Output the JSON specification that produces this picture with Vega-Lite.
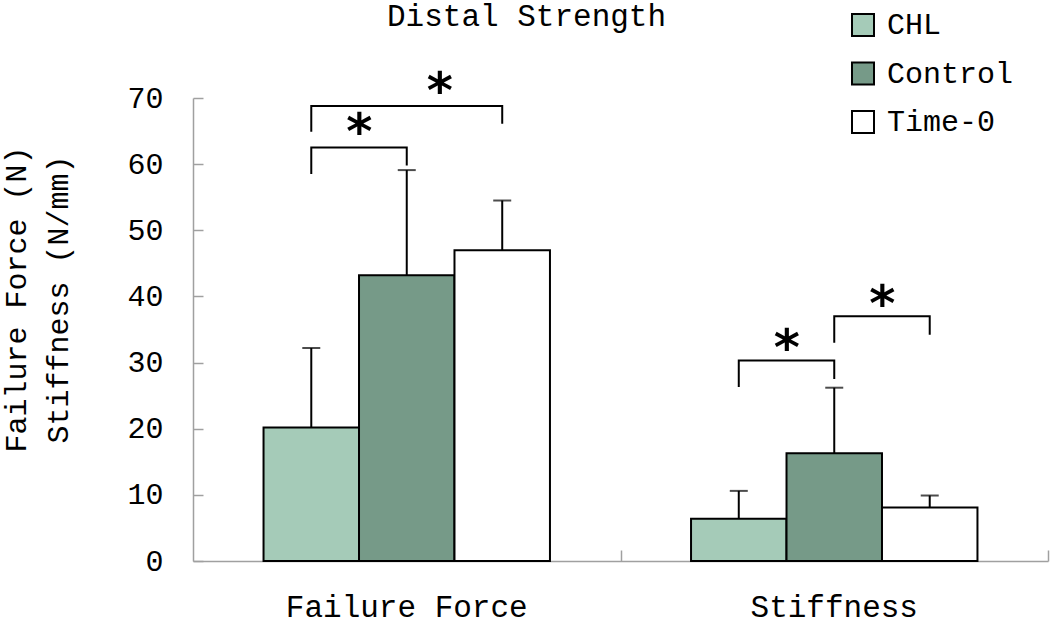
{
  "$schema": "https://vega.github.io/schema/vega-lite/v6.json",
  "width": 855,
  "height": 463,
  "autosize": {"type": "none"},
  "padding": {"left": 193, "top": 98, "right": 2, "bottom": 65},
  "background": "white",
  "config": {"view": {"stroke": null}, "font": "Liberation Mono"},
  "title": {"text": "Distal Strength", "anchor": "start", "frame": "group", "dx": 194, "offset": -47, "baseline": "alphabetic", "font": "Liberation Mono", "fontSize": 31, "fontWeight": "normal", "color": "black"},
  "resolve": {"axis": {"x": "independent", "y": "independent"}},
  "datasets": {
    "bars": [
      {"measure": "Failure Force", "group": "CHL", "mean": 20.2, "upper": 32.2},
      {"measure": "Failure Force", "group": "Control", "mean": 43.2, "upper": 59.1},
      {"measure": "Failure Force", "group": "Time-0", "mean": 47.0, "upper": 54.5},
      {"measure": "Stiffness", "group": "CHL", "mean": 6.4, "upper": 10.6},
      {"measure": "Stiffness", "group": "Control", "mean": 16.3, "upper": 26.2},
      {"measure": "Stiffness", "group": "Time-0", "mean": 8.1, "upper": 9.9}
    ],
    "brackets": [
      {"measure": "Failure Force", "bracket": "FF1", "pt": 1, "group": "CHL", "y": 58.5},
      {"measure": "Failure Force", "bracket": "FF1", "pt": 2, "group": "CHL", "y": 62.5},
      {"measure": "Failure Force", "bracket": "FF1", "pt": 3, "group": "Control", "y": 62.5},
      {"measure": "Failure Force", "bracket": "FF1", "pt": 4, "group": "Control", "y": 59.8},
      {"measure": "Failure Force", "bracket": "FF2", "pt": 1, "group": "CHL", "y": 64.9},
      {"measure": "Failure Force", "bracket": "FF2", "pt": 2, "group": "CHL", "y": 68.8},
      {"measure": "Failure Force", "bracket": "FF2", "pt": 3, "group": "Time-0", "y": 68.8},
      {"measure": "Failure Force", "bracket": "FF2", "pt": 4, "group": "Time-0", "y": 66.1},
      {"measure": "Stiffness", "bracket": "S1", "pt": 1, "group": "CHL", "y": 26.3},
      {"measure": "Stiffness", "bracket": "S1", "pt": 2, "group": "CHL", "y": 30.3},
      {"measure": "Stiffness", "bracket": "S1", "pt": 3, "group": "Control", "y": 30.3},
      {"measure": "Stiffness", "bracket": "S1", "pt": 4, "group": "Control", "y": 27.5},
      {"measure": "Stiffness", "bracket": "S2", "pt": 1, "group": "Control", "y": 33.0},
      {"measure": "Stiffness", "bracket": "S2", "pt": 2, "group": "Control", "y": 37.0},
      {"measure": "Stiffness", "bracket": "S2", "pt": 3, "group": "Time-0", "y": 37.0},
      {"measure": "Stiffness", "bracket": "S2", "pt": 4, "group": "Time-0", "y": 34.2}
    ],
    "stars": [
      {"measure": "Failure Force", "group": "CHL", "y": 66.0, "label": "*"},
      {"measure": "Stiffness", "group": "CHL", "y": 33.4, "label": "*"},
      {"measure": "Stiffness", "group": "Control", "y": 40.0, "label": "*"}
    ],
    "stars2": [
      {"measure": "Failure Force", "group": "Control", "y": 72.2, "label": "*"}
    ]
  },
  "encoding": {
    "x": {
      "field": "measure", "type": "nominal",
      "scale": {"domain": ["Failure Force", "Stiffness"], "paddingInner": 0.33, "paddingOuter": 0.165},
      "axis": null
    },
    "xOffset": {
      "field": "group", "type": "nominal",
      "scale": {"domain": ["CHL", "Control", "Time-0"], "paddingInner": 0, "paddingOuter": 0}
    }
  },
  "layer": [
    {
      "data": {"name": "bars"},
      "mark": {"type": "bar", "stroke": "black", "strokeWidth": 2},
      "encoding": {
        "x": {
          "field": "measure", "type": "nominal",
          "axis": {"title": null, "labelAngle": 0, "ticks": false, "domainColor": "#a0a0a0", "domainWidth": 1.5, "labelFontSize": 31, "labelFont": "Liberation Mono", "labelColor": "black", "labelPadding": 31, "labelLimit": 500}
        },
        "y": {
          "field": "mean", "type": "quantitative",
          "scale": {"domain": [0, 70], "nice": false},
          "axis": {"values": [0, 10, 20, 30, 40, 50, 60, 70], "grid": false, "ticks": false, "title": ["Failure Force (N)", "Stiffness (N/mm)"], "titleFont": "Liberation Mono", "titleFontSize": 30, "titleFontWeight": "normal", "titleColor": "black", "titleAngle": -90, "titleX": -177, "titleY": 201, "titleAlign": "center", "titleBaseline": "middle", "titleLineHeight": 42, "labelFont": "Liberation Mono", "labelFontSize": 30, "labelColor": "black", "labelPadding": 30, "domainColor": "#a0a0a0", "domainWidth": 1.5}
        },
        "color": {
          "field": "group", "type": "nominal",
          "scale": {"domain": ["CHL", "Control", "Time-0"], "range": ["#A5CBB8", "#769A88", "#FFFFFF"]},
          "legend": {"orient": "none", "legendX": 655, "legendY": -88, "title": null, "symbolType": "square", "symbolSize": 484, "symbolStrokeColor": "black", "symbolStrokeWidth": 2, "labelFont": "Liberation Mono", "labelFontSize": 30, "labelColor": "black", "rowPadding": 18.5, "labelOffset": 9, "padding": 0}
        }
      }
    },
    {
      "data": {"name": "bars"},
      "mark": {"type": "rule", "color": "black", "strokeWidth": 2},
      "encoding": {
        "y": {
          "field": "mean", "type": "quantitative",
          "axis": {"orient": "left", "offset": -10, "values": [0, 10, 20, 30, 40, 50, 60, 70], "domain": false, "labels": false, "grid": false, "ticks": true, "tickSize": 10, "tickColor": "#a0a0a0", "tickWidth": 1.5, "title": null}
        },
        "y2": {"field": "upper"}
      }
    },
    {
      "data": {"name": "bars"},
      "mark": {"type": "tick", "color": "black", "thickness": 2, "size": 18},
      "encoding": {
        "x": {
          "field": "measure", "type": "nominal",
          "axis": {"orient": "bottom", "offset": -11, "domain": false, "labels": false, "grid": false, "ticks": true, "tickOffset": 213.75, "tickSize": 11, "tickColor": "#a0a0a0", "tickWidth": 1.5, "title": null}
        },
        "y": {"field": "upper", "type": "quantitative", "axis": null}
      }
    },
    {
      "data": {"name": "brackets"},
      "mark": {"type": "line", "color": "black", "strokeWidth": 2},
      "encoding": {
        "y": {"field": "y", "type": "quantitative", "axis": null},
        "detail": {"field": "bracket"},
        "order": {"field": "pt", "type": "quantitative"}
      }
    },
    {
      "data": {"name": "stars"},
      "mark": {"type": "text", "font": "DejaVu Sans", "fontSize": 50, "fontWeight": "bold", "dx": 48, "baseline": "middle", "dy": 10, "color": "black"},
      "encoding": {
        "y": {"field": "y", "type": "quantitative", "axis": null},
        "text": {"field": "label"}
      }
    },
    {
      "data": {"name": "stars2"},
      "mark": {"type": "text", "font": "DejaVu Sans", "fontSize": 50, "fontWeight": "bold", "dx": 33, "baseline": "middle", "dy": 10, "color": "black"},
      "encoding": {
        "y": {"field": "y", "type": "quantitative", "axis": null},
        "text": {"field": "label"}
      }
    }
  ]
}
